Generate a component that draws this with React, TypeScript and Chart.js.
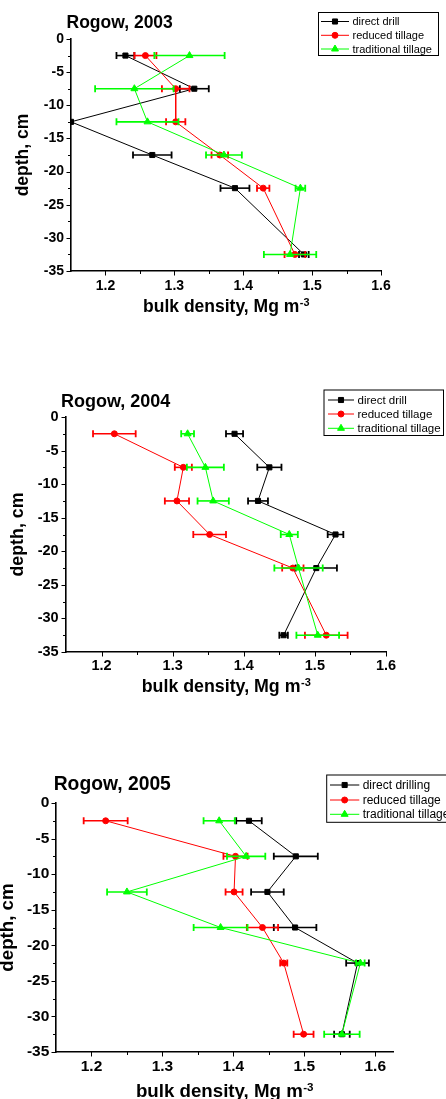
import React, { useEffect, useRef } from "react";
import { Chart, registerables } from "chart.js";

Chart.register(...registerables);

// ---------- data ----------
const depths = [-2.5, -7.5, -12.5, -17.5, -22.5, -32.5];

const directDrill2003 = [1.229, 1.329, 1.15, 1.268, 1.388, 1.488];
const directDrill2003Err = [0.013, 0.021, 0, 0.028, 0.021, 0.007];
const reducedTillage2003 = [1.258, 1.302, 1.302, 1.366, 1.429, 1.475];
const reducedTillage2003Err = [0.016, 0.02, 0.014, 0.012, 0.009, 0.015];
const traditionalTillage2003 = [1.322, 1.242, 1.261, 1.372, 1.483, 1.468];
const traditionalTillage2003Err = [0.051, 0.057, 0.045, 0.026, 0.007, 0.038];

const directDrill2004 = [1.387, 1.436, 1.42, 1.529, 1.502, 1.456];
const directDrill2004Err = [0.012, 0.017, 0.014, 0.011, 0.029, 0.006];
const reducedTillage2004 = [1.218, 1.315, 1.306, 1.352, 1.469, 1.516];
const reducedTillage2004Err = [0.03, 0.012, 0.017, 0.023, 0.015, 0.03];
const traditionalTillage2004 = [1.321, 1.346, 1.357, 1.464, 1.477, 1.504];
const traditionalTillage2004Err = [0.009, 0.026, 0.022, 0.012, 0.034, 0.03];

const directDrill2005 = [1.422, 1.488, 1.448, 1.487, 1.575, 1.553];
const directDrill2005Err = [0.018, 0.031, 0.023, 0.03, 0.016, 0.011];
const reducedTillage2005 = [1.22, 1.403, 1.401, 1.441, 1.471, 1.499];
const reducedTillage2005Err = [0.031, 0.017, 0.012, 0.022, 0.005, 0.014];
const traditionalTillage2005 = [1.38, 1.418, 1.25, 1.382, 1.579, 1.553];
const traditionalTillage2005Err = [0.022, 0.027, 0.028, 0.038, 0.006, 0.025];

const legendLabels2003 = ["direct drill", "reduced tillage", "traditional tillage"];
const legendLabels2004 = ["direct drill", "reduced tillage", "traditional tillage"];
const legendLabels2005 = ["direct drilling", "reduced tillage", "traditional tillage"];

const titles = ["Rogow, 2003", "Rogow, 2004", "Rogow, 2005"];
const xTickValues = [1.2, 1.3, 1.4, 1.5, 1.6];
const xMinorTickValues = [1.25, 1.35, 1.45, 1.55];
const yTickValues = [0, -5, -10, -15, -20, -25, -30, -35];
const yMinorTickValues = [-2.5, -7.5, -12.5, -17.5, -22.5, -27.5, -32.5];
const xAxisTitle = "bulk density, Mg m";
const xAxisTitleSup = "-3";
const yAxisTitle = "depth, cm";

// ---------- styles ----------
const FONT = '"Liberation Sans", Arial, Helvetica, sans-serif';
const seriesColors = ["#000000", "#ff0000", "#00ff00"];
const seriesPointStyles = ["rect", "circle", "triangle"];
const seriesPointRadius = [3.6, 3, 4];
const seriesOrder = [2, 1, 0];

type Layout = {
  canvasTop: number;
  canvasHeight: number;
  area: { l: number; t: number; r: number; b: number };
  xMax: number;
  titleX: number;
  titleY: number;
  titleSize: number;
  tickSize: number;
  xTickPad: number;
  yTickPad: number;
  axisTitleSize: number;
  yTitleX: number;
  xTitleBaseline: number;
  legend: { l: number; t: number; r: number; b: number; rows: number[]; lx1: number; lx2: number; tx: number; size: number };
};

const layouts: Layout[] = [
  {
    canvasTop: 0, canvasHeight: 340,
    area: { l: 71, t: 39, r: 381, b: 271 }, xMax: 1.6,
    titleX: 66.5, titleY: 28.3, titleSize: 17.5,
    tickSize: 14, xTickPad: 7, yTickPad: 7,
    axisTitleSize: 17.5, yTitleX: 28, xTitleBaseline: 311.5,
    legend: { l: 318.5, t: 12.5, r: 438.5, b: 55.5, rows: [21.5, 35.3, 49], lx1: 321, lx2: 349, tx: 352.5, size: 11 },
  },
  {
    canvasTop: 360, canvasHeight: 360,
    area: { l: 66, t: 417, r: 386, b: 652 }, xMax: 1.6,
    titleX: 61, titleY: 406.7, titleSize: 18,
    tickSize: 14.5, xTickPad: 5, yTickPad: 7.4,
    axisTitleSize: 17.8, yTitleX: 23, xTitleBaseline: 691.5,
    legend: { l: 324, t: 390, r: 443.5, b: 435.5, rows: [400, 414, 428.3], lx1: 328, lx2: 354, tx: 357.5, size: 11.5 },
  },
  {
    canvasTop: 740, canvasHeight: 359,
    area: { l: 56, t: 803, r: 393, b: 1052 }, xMax: 1.625,
    titleX: 53.7, titleY: 790, titleSize: 19.3,
    tickSize: 15.5, xTickPad: 5.5, yTickPad: 6.7,
    axisTitleSize: 18.7, yTitleX: 13, xTitleBaseline: 1096.5,
    legend: { l: 326.7, t: 775, r: 470, b: 822.3, rows: [785, 800, 814.3], lx1: 330, lx2: 359.3, tx: 362.7, size: 12 },
  },
];

const panelSeries = [
  [directDrill2003, reducedTillage2003, traditionalTillage2003],
  [directDrill2004, reducedTillage2004, traditionalTillage2004],
  [directDrill2005, reducedTillage2005, traditionalTillage2005],
];
const panelErrors = [
  [directDrill2003Err, reducedTillage2003Err, traditionalTillage2003Err],
  [directDrill2004Err, reducedTillage2004Err, traditionalTillage2004Err],
  [directDrill2005Err, reducedTillage2005Err, traditionalTillage2005Err],
];
const panelLabels = [legendLabels2003, legendLabels2004, legendLabels2005];

function drawMarker(ctx: CanvasRenderingContext2D, style: string, x: number, y: number, r: number, color: string) {
  ctx.save();
  ctx.fillStyle = color;
  ctx.strokeStyle = color;
  ctx.lineWidth = 1;
  ctx.beginPath();
  if (style === "rect") {
    const s = r * Math.SQRT1_2;
    ctx.rect(x - s, y - s, 2 * s, 2 * s);
  } else if (style === "circle") {
    ctx.arc(x, y, r, 0, Math.PI * 2);
  } else {
    const h = r * 1.5;
    const w = r * Math.sqrt(3) / 2;
    ctx.moveTo(x, y - r);
    ctx.lineTo(x + w, y + h - r);
    ctx.lineTo(x - w, y + h - r);
    ctx.closePath();
  }
  ctx.fill();
  ctx.stroke();
  ctx.restore();
}

function Panel({ index }: { index: number }) {
  const ref = useRef<HTMLCanvasElement | null>(null);
  const L = layouts[index];

  useEffect(() => {
    const canvas = ref.current;
    if (!canvas) return;
    const top = L.canvasTop;
    const series = panelSeries[index];
    const errors = panelErrors[index];
    const labels = panelLabels[index];

    const decor = {
      id: "decor" + index,
      beforeDatasetDraw(chart: any, args: any) {
        const k = args.index;
        const ds = chart.data.datasets[k];
        const errs: number[] = errors[k];
        const xs = chart.scales.x;
        const ys = chart.scales.y;
        const ctx: CanvasRenderingContext2D = chart.ctx;
        const ca = chart.chartArea;
        ctx.save();
        ctx.beginPath();
        ctx.rect(ca.left, ca.top - 5, ca.right - ca.left + 5, ca.bottom - ca.top + 10);
        ctx.clip();
        ctx.strokeStyle = seriesColors[k];
        ctx.lineWidth = 1.6;
        ds.data.forEach((p: any, i: number) => {
          const e = errs[i];
          if (!e) return;
          const y = ys.getPixelForValue(p.y);
          const x1 = xs.getPixelForValue(p.x - e);
          const x2 = xs.getPixelForValue(p.x + e);
          ctx.beginPath();
          ctx.moveTo(x1, y);
          ctx.lineTo(x2, y);
          ctx.stroke();
          ctx.lineWidth = 1.8;
          ctx.beginPath();
          ctx.moveTo(x1, y - 3.5);
          ctx.lineTo(x1, y + 3.5);
          ctx.moveTo(x2, y - 3.5);
          ctx.lineTo(x2, y + 3.5);
          ctx.stroke();
          ctx.lineWidth = 1.6;
        });
        ctx.restore();
      },
      afterDraw(chart: any) {
        const ctx: CanvasRenderingContext2D = chart.ctx;
        const xs = chart.scales.x;
        const ys = chart.scales.y;
        const ca = chart.chartArea;
        ctx.save();
        // tick marks
        ctx.strokeStyle = "#000";
        ctx.lineWidth = 1;
        ctx.beginPath();
        xTickValues.filter((v) => v <= L.xMax + 1e-9).forEach((v) => {
          const px = Math.round(xs.getPixelForValue(v)) + 0.5;
          ctx.moveTo(px, ca.bottom);
          ctx.lineTo(px, ca.bottom + 4.5);
        });
        xMinorTickValues.forEach((v) => {
          const px = Math.round(xs.getPixelForValue(v)) + 0.5;
          ctx.moveTo(px, ca.bottom);
          ctx.lineTo(px, ca.bottom + 3);
        });
        yTickValues.forEach((v) => {
          const py = Math.round(ys.getPixelForValue(v)) + 0.5;
          ctx.moveTo(ca.left, py);
          ctx.lineTo(ca.left - 4.5, py);
        });
        yMinorTickValues.forEach((v) => {
          const py = Math.round(ys.getPixelForValue(v)) + 0.5;
          ctx.moveTo(ca.left, py);
          ctx.lineTo(ca.left - 3, py);
        });
        ctx.stroke();

        // panel title
        ctx.fillStyle = "#000";
        ctx.textAlign = "left";
        ctx.textBaseline = "alphabetic";
        ctx.font = `bold ${L.titleSize}px ${FONT}`;
        ctx.fillText(titles[index], L.titleX, L.titleY - top);

        // x axis title with superscript
        ctx.font = `bold ${L.axisTitleSize}px ${FONT}`;
        const mainW = ctx.measureText(xAxisTitle).width;
        const supSize = L.axisTitleSize * 0.62;
        ctx.font = `bold ${supSize}px ${FONT}`;
        const supW = ctx.measureText(xAxisTitleSup).width;
        const cx = (ca.left + ca.right) / 2;
        const startX = cx - (mainW + supW) / 2;
        ctx.font = `bold ${L.axisTitleSize}px ${FONT}`;
        ctx.fillText(xAxisTitle, startX, L.xTitleBaseline - top);
        ctx.font = `bold ${supSize}px ${FONT}`;
        ctx.fillText(xAxisTitleSup, startX + mainW + 0.5, L.xTitleBaseline - top - L.axisTitleSize * 0.32);

        // y axis title
        ctx.save();
        ctx.translate(L.yTitleX, (ca.top + ca.bottom) / 2);
        ctx.rotate(-Math.PI / 2);
        ctx.textAlign = "center";
        ctx.font = `bold ${L.axisTitleSize}px ${FONT}`;
        ctx.fillText(yAxisTitle, 0, 0);
        ctx.restore();

        // legend
        const lg = L.legend;
        ctx.strokeStyle = "#000";
        ctx.lineWidth = 1;
        ctx.strokeRect(lg.l, lg.t - top, lg.r - lg.l, lg.b - lg.t);
        ctx.font = `${lg.size}px ${FONT}`;
        ctx.textBaseline = "middle";
        ctx.textAlign = "left";
        labels.forEach((lab, k) => {
          const y = lg.rows[k] - top;
          ctx.strokeStyle = seriesColors[k];
          ctx.lineWidth = 1;
          ctx.beginPath();
          ctx.moveTo(lg.lx1, y);
          ctx.lineTo(lg.lx2, y);
          ctx.stroke();
          drawMarker(ctx, seriesPointStyles[k], (lg.lx1 + lg.lx2) / 2, y, seriesPointRadius[k], seriesColors[k]);
          ctx.fillStyle = "#000";
          ctx.fillText(lab, lg.tx, y + 0.5);
        });
        ctx.restore();
      },
    };

    const chart = new Chart(canvas, {
      type: "scatter",
      data: {
        datasets: series.map((vals, k) => ({
          label: labels[k],
          data: vals.map((v, i) => ({ x: v, y: depths[i] })),
          showLine: true,
          borderColor: seriesColors[k],
          backgroundColor: seriesColors[k],
          borderWidth: 1,
          pointStyle: seriesPointStyles[k] as any,
          pointRadius: seriesPointRadius[k],
          pointBorderWidth: 1,
          pointBorderColor: seriesColors[k],
          pointBackgroundColor: seriesColors[k],
          order: seriesOrder[k],
        })),
      },
      options: {
        animation: false,
        responsive: false,
        devicePixelRatio: 1,
        events: [],
        layout: {
          padding: { left: 0, top: L.area.t - top, right: 446 - L.area.r, bottom: 0 },
        },
        plugins: {
          legend: { display: false },
          tooltip: { enabled: false },
          title: { display: false },
        },
        scales: {
          x: {
            type: "linear",
            position: "bottom",
            min: 1.15,
            max: L.xMax,
            afterFit: (s: any) => {
              s.height = L.canvasHeight - (L.area.b - top);
            },
            afterBuildTicks: (s: any) => {
              s.ticks = xTickValues.filter((v) => v <= L.xMax + 1e-9).map((v) => ({ value: v }));
            },
            ticks: {
              callback: (v: any) => Number(v).toFixed(1),
              font: { family: FONT, size: L.tickSize, weight: "bold" },
              color: "#000",
              padding: L.xTickPad,
              maxRotation: 0,
              autoSkip: false,
            },
            grid: { display: false, drawTicks: false },
            border: { display: true, color: "#000", width: 1.6 },
          },
          y: {
            type: "linear",
            position: "left",
            min: -35,
            max: 0,
            afterFit: (s: any) => {
              s.width = L.area.l;
            },
            afterBuildTicks: (s: any) => {
              s.ticks = yTickValues.map((v) => ({ value: v }));
            },
            ticks: {
              callback: (v: any) => String(v),
              font: { family: FONT, size: L.tickSize, weight: "bold" },
              color: "#000",
              padding: L.yTickPad,
              autoSkip: false,
            },
            grid: { display: false, drawTicks: false },
            border: { display: true, color: "#000", width: 1.6 },
          },
        },
      } as any,
      plugins: [decor as any],
    });
    return () => chart.destroy();
  }, [index]);

  return (
    <canvas
      ref={ref}
      width={446}
      height={L.canvasHeight}
      style={{ position: "absolute", left: 0, top: L.canvasTop, width: 446, height: L.canvasHeight, display: "block" }}
    />
  );
}

export default function App() {
  return (
    <div style={{ position: "absolute", left: 0, top: 0, width: 446, height: 1099, overflow: "hidden", background: "#fff" }}>
      <Panel index={0} />
      <Panel index={1} />
      <Panel index={2} />
    </div>
  );
}
